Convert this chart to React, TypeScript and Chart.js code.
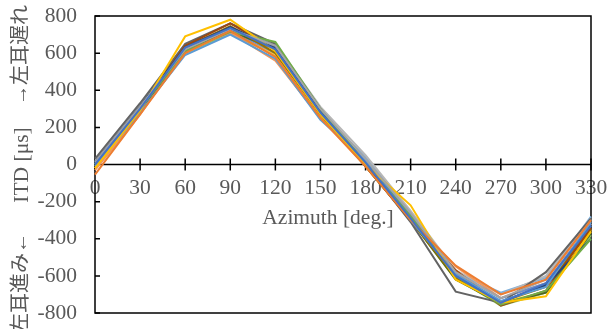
import React, { useEffect, useRef } from "react";
import { Chart, registerables } from "chart.js";

Chart.register(...registerables);

const azimuths = [0, 30, 60, 90, 120, 150, 180, 210, 240, 270, 300, 330];
const yTickValues = [-800, -600, -400, -200, 0, 200, 400, 600, 800];

const s01 = [0, 300, 630, 735, 620, 280, 10, -290, -600, -745, -640, -330];
const s02 = [-55, 270, 600, 720, 580, 250, -10, -300, -545, -700, -620, -300];
const s03 = [10, 310, 620, 730, 640, 300, 30, -260, -580, -720, -620, -300];
const s04 = [-20, 290, 690, 780, 610, 270, 0, -220, -620, -745, -710, -360];
const s05 = [-10, 280, 590, 700, 570, 240, 20, -300, -590, -735, -660, -310];
const s06 = [0, 300, 610, 715, 660, 300, 10, -280, -600, -755, -680, -400];
const s07 = [10, 310, 630, 740, 630, 290, 0, -290, -590, -740, -650, -400];
const s08 = [-10, 300, 640, 760, 620, 280, -10, -300, -570, -760, -680, -340];
const s09 = [30, 330, 650, 760, 650, 300, 0, -310, -685, -745, -580, -290];
const s10 = [0, 300, 630, 745, 600, 270, 0, -300, -610, -740, -660, -350];
const s11 = [0, 310, 640, 730, 640, 290, 10, -290, -600, -740, -650, -330];
const s12 = [-10, 290, 610, 720, 620, 270, -10, -300, -620, -750, -690, -370];
const s13 = [0, 290, 620, 725, 600, 270, 20, -270, -580, -720, -640, -320];
const s14 = [-30, 270, 620, 710, 560, 250, 0, -290, -550, -720, -640, -320];
const s15 = [20, 320, 640, 740, 650, 310, 50, -250, -570, -700, -600, -290];
const s16 = [-20, 280, 600, 720, 590, 260, -10, -300, -620, -740, -690, -350];
const s17 = [10, 310, 620, 710, 600, 280, 40, -260, -580, -690, -610, -280];
const s18 = [0, 300, 600, 705, 590, 270, 0, -300, -610, -760, -690, -380];

const seriesList = [s01, s02, s03, s04, s05, s06, s07, s08, s09, s10, s11, s12, s13, s14, s15, s16, s17, s18];
const seriesColors = [
  "#4472C4", "#ED7D31", "#A5A5A5", "#FFC000", "#5B9BD5", "#70AD47",
  "#264478", "#9E480E", "#636363", "#997300", "#255E91", "#43682B",
  "#698ED0", "#F1975A", "#B7B7B7", "#FFCD33", "#7CAFDD", "#8CC168",
];

const xTitle = "Azimuth [deg.]";
const yTitleLow = "左耳進み←";
const yTitleMid = "ITD [μs]";
const yTitleHigh = "→左耳遅れ";

const TEXT = "#595959";
const FONT = "'Liberation Serif', 'Times New Roman', 'Noto Sans CJK JP', serif";
const FS = 21.5;

const framePlugin = {
  id: "frame",
  beforeDatasetsDraw(chart: any) {
    const { ctx, chartArea: a, scales } = chart;
    const xs = scales.x;
    const ys = scales.y;
    const y0 = ys.getPixelForValue(0);
    ctx.save();
    ctx.strokeStyle = "#000";
    ctx.lineWidth = 1.5;
    ctx.strokeRect(a.left, a.top, a.right - a.left, a.bottom - a.top);
    ctx.beginPath();
    ctx.moveTo(a.left, y0);
    ctx.lineTo(a.right, y0);
    xs.ticks.forEach((_: any, i: number) => {
      const px = xs.getPixelForTick(i);
      ctx.moveTo(px, y0 - 6);
      ctx.lineTo(px, y0 + 6);
    });
    yTickValues.forEach((v) => {
      const py = ys.getPixelForValue(v);
      ctx.moveTo(a.left, py);
      ctx.lineTo(a.left + 5, py);
    });
    ctx.stroke();
    ctx.restore();
  },
  afterDraw(chart: any) {
    const { ctx, chartArea: a, scales } = chart;
    const ys = scales.y;
    const y0 = ys.getPixelForValue(0);
    ctx.save();
    ctx.fillStyle = TEXT;
    ctx.font = `${FS}px ${FONT}`;
    ctx.textAlign = "center";
    ctx.textBaseline = "middle";
    ctx.fillText(xTitle, (a.left + a.right) / 2 - 15, y0 + 54);
    const cx = 22;
    const drawRot = (t: string, cy: number) => {
      ctx.save();
      ctx.translate(cx, cy);
      ctx.rotate(-Math.PI / 2);
      ctx.fillText(t, 0, 0);
      ctx.restore();
    };
    ctx.font = `20px ${FONT}`;
    drawRot(yTitleLow, 283);
    drawRot(yTitleHigh, 55);
    ctx.font = `${FS}px ${FONT}`;
    drawRot(yTitleMid, 165);
    ctx.restore();
  },
};

export default function App() {
  const ref = useRef<HTMLCanvasElement | null>(null);
  useEffect(() => {
    if (!ref.current) return;
    const chart = new Chart(ref.current, {
      type: "line",
      data: {
        labels: azimuths.map(String),
        datasets: seriesList.map((s, i) => ({
          label: `S${i + 1}`,
          data: s,
          borderColor: seriesColors[i],
          backgroundColor: seriesColors[i],
          borderWidth: 2,
          pointRadius: 0,
          tension: 0,
          fill: false,
        })),
      },
      options: {
        animation: false,
        responsive: true,
        maintainAspectRatio: false,
        layout: { padding: { top: 16, right: 18, bottom: 16, left: 0 } },
        plugins: { legend: { display: false }, tooltip: { enabled: false } },
        scales: {
          x: {
            type: "category",
            position: { y: 0 } as any,
            offset: false,
            grid: { display: false, drawTicks: false },
            border: { display: false },
            ticks: {
              color: TEXT,
              font: { family: FONT, size: FS },
              padding: 11,
              maxRotation: 0,
              autoSkip: false,
            },
            afterFit: (s: any) => {
              s.height = 0;
              s.paddingLeft = 0;
              s.paddingRight = 0;
              s.paddingTop = 0;
              s.paddingBottom = 0;
            },
          },
          y: {
            type: "linear",
            min: -800,
            max: 800,
            grid: { display: false, drawTicks: false },
            border: { display: false },
            ticks: {
              stepSize: 200,
              color: TEXT,
              font: { family: FONT, size: FS },
              padding: 18,
            },
            afterFit: (s: any) => {
              s.width = 95;
              s.paddingTop = 0;
              s.paddingBottom = 0;
              s.paddingLeft = 0;
              s.paddingRight = 0;
            },
          },
        },
      },
      plugins: [framePlugin],
    });
    return () => chart.destroy();
  }, []);
  return (
    <div style={{ position: "absolute", left: 0, top: 0, width: 609, height: 329 }}>
      <canvas ref={ref} />
    </div>
  );
}
